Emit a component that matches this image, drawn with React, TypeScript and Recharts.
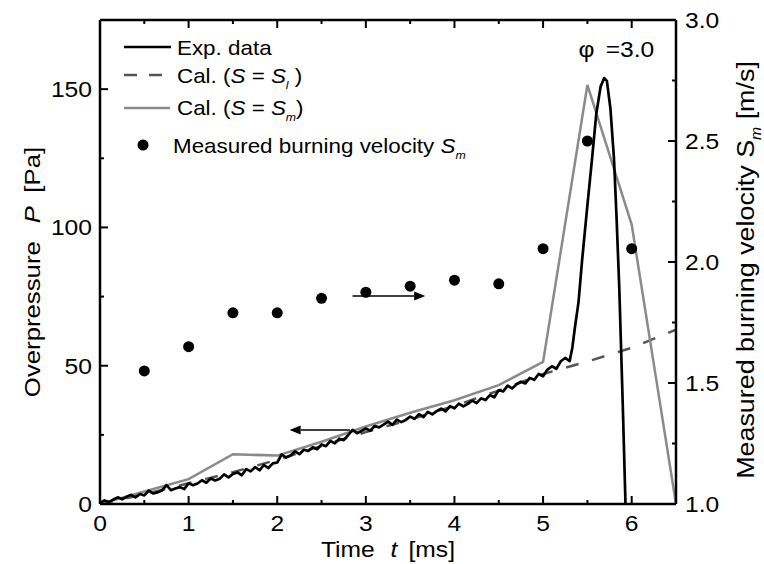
import React from "react";
import {
  ComposedChart,
  Line,
  Scatter,
  XAxis,
  YAxis,
  Legend,
  Label,
  ReferenceLine,
  ReferenceDot,
} from "recharts";

// experimental pressure trace (left axis, Pa)
const expT = [
  0, 0.05, 0.1, 0.15, 0.2, 0.25, 0.3, 0.35, 0.4, 0.45,
  0.5, 0.55, 0.6, 0.65, 0.7, 0.75, 0.8, 0.85, 0.9, 0.95,
  1.0, 1.05, 1.1, 1.15, 1.2, 1.25, 1.3, 1.35, 1.4, 1.45,
  1.5, 1.55, 1.6, 1.65, 1.7, 1.75, 1.8, 1.85, 1.9, 1.95,
  2.0, 2.05, 2.1, 2.15, 2.2, 2.25, 2.3, 2.35, 2.4, 2.45,
  2.5, 2.55, 2.6, 2.65, 2.7, 2.75, 2.8, 2.85, 2.9, 2.95,
  3.0, 3.05, 3.1, 3.15, 3.2, 3.25, 3.3, 3.35, 3.4, 3.45,
  3.5, 3.55, 3.6, 3.65, 3.7, 3.75, 3.8, 3.85, 3.9, 3.95,
  4.0, 4.05, 4.1, 4.15, 4.2, 4.25, 4.3, 4.35, 4.4, 4.45,
  4.5, 4.55, 4.6, 4.65, 4.7, 4.75, 4.8, 4.85, 4.9, 4.95,
  5.0, 5.05, 5.1, 5.15, 5.2, 5.25, 5.3, 5.33, 5.36, 5.4,
  5.44, 5.5, 5.55, 5.6, 5.65, 5.69, 5.72, 5.76, 5.8, 5.83,
  5.86, 5.9, 5.93,
];
const expP = [
  0.3, 1.3, 0.7, 1.6, 2.4, 1.7, 2.6, 3.3, 2.4, 3.6,
  3.1, 4.8, 3.8, 4.2, 4.9, 6.8, 5.0, 5.6, 6.1, 5.4,
  7.5, 6.8, 7.4, 8.6, 7.7, 9.2, 8.5, 9.1, 10.7, 9.6,
  10.9, 11.4, 10.4, 12.6, 11.8, 13.3, 12.2, 14.1, 13.0, 14.7,
  15.0, 17.9, 16.8, 17.5, 19.0, 18.0, 19.6, 19.2, 20.5, 19.8,
  21.5, 20.9, 22.8, 21.9, 23.6, 23.1, 24.9, 26.8, 25.6, 26.4,
  27.3, 26.5, 28.2, 27.7, 28.7, 29.8, 28.6, 30.5, 29.6, 30.4,
  31.6, 30.8, 32.5, 31.4, 33.3, 32.4, 33.6, 34.5, 33.5, 35.4,
  34.6, 36.3, 35.3, 36.2, 37.4, 36.5, 38.2, 37.6, 39.4, 38.6,
  41.2, 40.7, 42.8, 41.8, 43.3, 44.2, 43.6, 45.6, 44.9, 47.0,
  46.2, 48.6, 49.8, 48.9, 51.6, 52.8, 51.7, 56.5, 64, 73,
  88, 108, 124, 141, 151, 154, 153, 143, 125, 103,
  78, 35, 0,
];

// calculations (left axis, Pa)
const calT = [0, 0.5, 1, 1.5, 2, 2.5, 3, 3.5, 4, 4.5, 5, 5.5, 6, 6.5];
const calSl = [0, 3.5, 7.5, 11.5, 16, 21, 26, 30.5, 35.5, 41, 47, 51.5, 56.5, 63];
const calSm = [0, 4.5, 9, 18, 17.5, 22.5, 28, 33, 37.5, 43, 51.4, 151.5, 101, 0];

// measured burning velocity (right axis, m/s)
const smT = [0.5, 1, 1.5, 2, 2.5, 3, 3.5, 4, 4.5, 5, 5.5, 6];
const smV = [1.55, 1.65, 1.79, 1.79, 1.85, 1.875, 1.9, 1.925, 1.91, 2.055, 2.5, 2.055];

const xTicks = [0, 0.5, 1, 1.5, 2, 2.5, 3, 3.5, 4, 4.5, 5, 5.5, 6, 6.5];
const pTicks = [0, 25, 50, 75, 100, 125, 150, 175];
const sTicks = [1, 1.25, 1.5, 1.75, 2, 2.25, 2.5, 2.75, 3];

const expData = expT.map((t, i) => ({ t, p: expP[i] }));
const slData = calT.map((t, i) => ({ t, p: calSl[i] }));
const smLineData = calT.map((t, i) => ({ t, p: calSm[i] }));
const smData = smT.map((t, i) => ({ t, s: smV[i] }));

const FONT = '"Liberation Sans", Arial, Helvetica, sans-serif';
const SX = 1.12;
const GRAY = "#8a8a8a";
const DASH = "#555555";

const Txt = ({ x, y, size, anchor = "start", rotate = 0, children }: any) => (
  <text
    transform={`translate(${x},${y})${rotate ? ` rotate(${rotate})` : ""} scale(${SX},1)`}
    fontSize={size}
    fontFamily={FONT}
    textAnchor={anchor}
    fill="#000"
    style={{ whiteSpace: "pre" }}
  >
    {children}
  </text>
);

const BottomTick = ({ x, y, payload }: any) => {
  const major = Number.isInteger(payload.value) && payload.value < 6.5;
  return (
    <g>
      <line x1={x} x2={x} y1={y} y2={y - (major ? 8 : 4)} stroke="#000" strokeWidth={2} />
      {major && (
        <Txt x={x} y={y + 27} size={22} anchor="middle">
          {payload.value}
        </Txt>
      )}
    </g>
  );
};

const TopTick = ({ x, y, payload }: any) => {
  const major = Number.isInteger(payload.value);
  return <line x1={x} x2={x} y1={y} y2={y + (major ? 8 : 4)} stroke="#000" strokeWidth={2} />;
};

const LeftTick = ({ x, y, payload }: any) => {
  const major = payload.value % 50 === 0;
  return (
    <g>
      <line x1={x} x2={x + (major ? 8 : 4)} y1={y} y2={y} stroke="#000" strokeWidth={2} />
      {major && (
        <Txt x={x - 8} y={y + 8} size={22} anchor="end">
          {payload.value}
        </Txt>
      )}
    </g>
  );
};

const RightTick = ({ x, y, payload }: any) => {
  const major = (payload.value * 2) % 1 === 0;
  return (
    <g>
      <line x1={x} x2={x - (major ? 8 : 4)} y1={y} y2={y} stroke="#000" strokeWidth={2} />
      {major && (
        <Txt x={x + 9} y={y + 8} size={22}>
          {payload.value.toFixed(1)}
        </Txt>
      )}
    </g>
  );
};

const TimeTitle = ({ viewBox }: any) => (
  <Txt x={viewBox.x + viewBox.width / 2} y={viewBox.y + 53} size={22} anchor="middle">
    <tspan>Time</tspan>
    <tspan dx={14} fontStyle="italic">t</tspan>
    <tspan dx={10}>[ms]</tspan>
  </Txt>
);

const PressureTitle = ({ viewBox }: any) => (
  <Txt x={viewBox.x + 40} y={viewBox.y + viewBox.height / 2 + 10} size={23} anchor="middle" rotate={-90}>
    <tspan>Overpressure</tspan>
    <tspan dx={16} fontStyle="italic">P</tspan>
    <tspan dx={12}>[Pa]</tspan>
  </Txt>
);

const VelocityTitle = ({ viewBox }: any) => (
  <Txt x={viewBox.x + 78} y={viewBox.y + viewBox.height / 2 + 8} size={24} anchor="middle" rotate={-90}>
    <tspan>Measured burning velocity S</tspan>
    <tspan fontSize={14} fontStyle="italic" dy={7}>m</tspan>
    <tspan dy={-7}> [m/s]</tspan>
  </Txt>
);

const Arrow = ({ x1, y1, x2, y2 }: any) => {
  const dir = Math.sign(x2 - x1);
  const head = 11;
  return (
    <g>
      <line x1={x1} y1={y1} x2={x2 - dir * head} y2={y2} stroke="#000" strokeWidth={1.5} />
      <polygon
        points={`${x2},${y2} ${x2 - dir * head},${y2 - 4.5} ${x2 - dir * head},${y2 + 4.5}`}
        fill="#000"
      />
    </g>
  );
};

const LegendBox = () => (
  <svg width={420} height={140} style={{ overflow: "visible", display: "block" }}>
    <line x1={6} x2={53} y1={17} y2={17} stroke="#000" strokeWidth={2.5} />
    <Txt x={59} y={25} size={20}>Exp. data</Txt>
    <line x1={6} x2={46} y1={45} y2={45} stroke={DASH} strokeWidth={2.5} strokeDasharray="13 12" />
    <Txt x={59} y={53} size={20}>
      <tspan>Cal. (</tspan>
      <tspan fontStyle="italic">S</tspan>
      <tspan> = </tspan>
      <tspan fontStyle="italic">S</tspan>
      <tspan fontSize={11} fontStyle="italic" dy={6}>l</tspan>
      <tspan dy={-6}> )</tspan>
    </Txt>
    <line x1={6} x2={52} y1={78} y2={78} stroke={GRAY} strokeWidth={2.5} />
    <Txt x={59} y={85} size={20}>
      <tspan>Cal. (</tspan>
      <tspan fontStyle="italic">S</tspan>
      <tspan> = </tspan>
      <tspan fontStyle="italic">S</tspan>
      <tspan fontSize={11} fontStyle="italic" dy={6}>m</tspan>
      <tspan dy={-6}>)</tspan>
    </Txt>
    <circle cx={25} cy={115} r={5.5} fill="#000" />
    <Txt x={55} y={123} size={20}>
      <tspan>Measured burning velocity </tspan>
      <tspan fontStyle="italic">S</tspan>
      <tspan fontSize={11} fontStyle="italic" dy={6}>m</tspan>
    </Txt>
  </svg>
);

const PhiLabel = ({ cx, cy }: any) => (
  <Txt x={cx} y={cy} size={22}>
    <tspan>φ</tspan>
    <tspan dx={10}>=3.0</tspan>
  </Txt>
);

export default function App() {
  return (
    <div style={{ position: "absolute", left: 0, top: 0, background: "#fff" }}>
      <ComposedChart width={764} height={564} margin={{ top: 0, right: 0, bottom: 0, left: 0 }}>
        <XAxis
          xAxisId="b"
          dataKey="t"
          type="number"
          domain={[0, 6.5]}
          ticks={xTicks}
          interval={0}
          tickSize={0}
          tickMargin={0}
          tickLine={false}
          tick={BottomTick}
          axisLine={{ stroke: "#000", strokeWidth: 2.5 }}
          height={60}
          allowDataOverflow
        >
          <Label content={TimeTitle} />
        </XAxis>
        <XAxis
          xAxisId="top"
          orientation="top"
          dataKey="t"
          type="number"
          domain={[0, 6.5]}
          ticks={xTicks}
          interval={0}
          tickSize={0}
          tickMargin={0}
          tickLine={false}
          tick={TopTick}
          axisLine={{ stroke: "#000", strokeWidth: 2.5 }}
          height={20}
          allowDataOverflow
        />
        <YAxis
          yAxisId="p"
          type="number"
          domain={[0, 175]}
          ticks={pTicks}
          interval={0}
          tickSize={0}
          tickMargin={0}
          tickLine={false}
          tick={LeftTick}
          axisLine={{ stroke: "#000", strokeWidth: 2.5 }}
          width={100}
          allowDataOverflow
        >
          <Label content={PressureTitle} />
        </YAxis>
        <YAxis
          yAxisId="s"
          orientation="right"
          type="number"
          domain={[1, 3]}
          ticks={sTicks}
          interval={0}
          tickSize={0}
          tickMargin={0}
          tickLine={false}
          tick={RightTick}
          axisLine={{ stroke: "#000", strokeWidth: 2.5 }}
          width={88}
          allowDataOverflow
        >
          <Label content={VelocityTitle} />
        </YAxis>

        <Legend
          layout="vertical"
          align="center"
          verticalAlign="middle"
          wrapperStyle={{ left: 118, top: 30, width: 420, height: 140 }}
          content={LegendBox}
        />

        <Line
          xAxisId="b"
          yAxisId="p"
          data={slData}
          dataKey="p"
          type="linear"
          stroke={DASH}
          strokeWidth={2.5}
          strokeDasharray="13 14"
          dot={false}
          isAnimationActive={false}
        />
        <Line
          xAxisId="b"
          yAxisId="p"
          data={smLineData}
          dataKey="p"
          type="linear"
          stroke={GRAY}
          strokeWidth={2.5}
          dot={false}
          isAnimationActive={false}
        />
        <Line
          xAxisId="b"
          yAxisId="p"
          data={expData}
          dataKey="p"
          type="linear"
          stroke="#000"
          strokeWidth={2.7}
          strokeLinejoin="round"
          dot={false}
          isAnimationActive={false}
        />
        <Scatter
          xAxisId="b"
          yAxisId="s"
          data={smData}
          dataKey="s"
          fill="#000"
          shape={(p: any) => <circle cx={p.cx} cy={p.cy} r={5.5} fill="#000" />}
          isAnimationActive={false}
        />

        <ReferenceLine
          xAxisId="b"
          yAxisId="s"
          segment={[
            { x: 2.85, y: 1.86 },
            { x: 3.67, y: 1.86 },
          ]}
          shape={Arrow}
        />
        <ReferenceLine
          xAxisId="b"
          yAxisId="p"
          segment={[
            { x: 2.82, y: 26.8 },
            { x: 2.14, y: 26.8 },
          ]}
          shape={Arrow}
        />
        <ReferenceDot xAxisId="b" yAxisId="p" x={5.4} y={161.5} r={0} shape={PhiLabel} />
      </ComposedChart>
    </div>
  );
}
